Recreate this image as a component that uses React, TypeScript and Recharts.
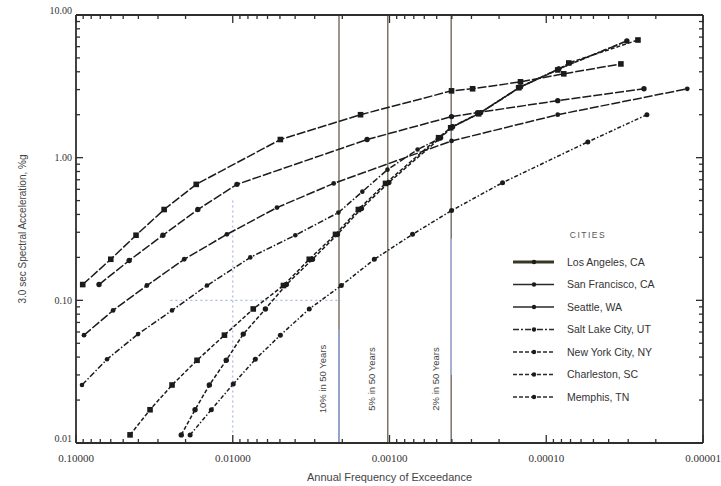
import React from "react";
import { LineChart, Line, XAxis, YAxis, ReferenceLine } from "recharts";

const W = 721;
const H = 486;

/* ---- axis ticks ---- */
const X_MAJOR = [0.1, 0.01, 0.001, 0.0001, 0.00001];
const X_LABELS = ["0.10000", "0.01000", "0.00100", "0.00010", "0.00001"];
const Y_MAJOR = [0.01, 0.1, 1, 10];
const Y_LABELS = ["0.01", "0.10", "1.00", "10.00"];
const MINOR_MULT = [2, 3, 4, 5, 6, 7, 8, 9];
const X_DECADES = [0.00001, 0.0001, 0.001, 0.01];
const Y_DECADES = [0.01, 0.1, 1];

const X_TICKS = [...X_MAJOR, ...X_DECADES.flatMap(d => MINOR_MULT.map(m => d * m))];
const Y_TICKS = [...Y_MAJOR, ...Y_DECADES.flatMap(d => MINOR_MULT.map(m => d * m))];

/* ---- hazard curves: annual frequency / spectral acceleration ---- */
const LA_F = [0.0906, 0.060, 0.0414, 0.0274, 0.0171, 0.00497, 0.00153, 0.000402, 0.000295, 0.000146, 0.0000773, 0.0000334];
const LA_SA = [0.129, 0.194, 0.286, 0.433, 0.65, 1.34, 2.0, 2.94, 3.04, 3.40, 3.87, 4.54];

const SF_F = [0.0713, 0.0458, 0.0279, 0.0167, 0.0094, 0.00139, 0.000402, 0.000274, 0.0000845, 0.0000238];
const SF_SA = [0.129, 0.19, 0.286, 0.433, 0.65, 1.34, 1.94, 2.07, 2.51, 3.04];

const SEA_F = [0.0889, 0.058, 0.0353, 0.0204, 0.0109, 0.00522, 0.00227, 0.000402, 0.0000845, 0.0000126];
const SEA_SA = [0.057, 0.085, 0.127, 0.194, 0.29, 0.447, 0.66, 1.31, 2.0, 3.04];

const SLC_F = [0.0916, 0.0634, 0.0402, 0.0244, 0.0146, 0.00773, 0.00399, 0.00212, 0.00149, 0.00103, 0.000662, 0.000493, 0.000396, 0.000262, 0.000146, 0.0000832, 0.0000306];
const SLC_SA = [0.0255, 0.0386, 0.058, 0.085, 0.127, 0.20, 0.286, 0.412, 0.578, 0.824, 1.14, 1.34, 1.65, 2.07, 3.13, 4.19, 6.58];

const NY_F = [0.0452, 0.0337, 0.0244, 0.0169, 0.0113, 0.0074, 0.00475, 0.00325, 0.00221, 0.00158, 0.00106, 0.000486, 0.000407, 0.00027, 0.00015, 0.0000845, 0.0000718, 0.000026];
const NY_SA = [0.0114, 0.0171, 0.0255, 0.038, 0.057, 0.087, 0.127, 0.194, 0.29, 0.433, 0.66, 1.38, 1.62, 2.03, 3.09, 4.12, 4.61, 6.68];

const CHS_F = [0.0213, 0.0174, 0.0141, 0.011, 0.00857, 0.00619, 0.00455, 0.0031, 0.00215, 0.00151, 0.00101, 0.000472, 0.000396, 0.000262, 0.000146, 0.0000832, 0.0000306];
const CHS_SA = [0.0114, 0.0171, 0.0255, 0.038, 0.058, 0.087, 0.129, 0.194, 0.29, 0.44, 0.67, 1.38, 1.65, 2.07, 3.13, 4.19, 6.58];

const MEM_F = [0.0187, 0.0137, 0.00993, 0.00718, 0.00497, 0.00325, 0.00203, 0.00125, 0.000713, 0.000402, 0.00019, 0.0000543, 0.0000228];
const MEM_SA = [0.0114, 0.0171, 0.0259, 0.0386, 0.057, 0.087, 0.127, 0.194, 0.29, 0.426, 0.668, 1.29, 2.0];

const CITIES = [
  "Los Angeles, CA", "San Francisco, CA", "Seattle, WA", "Salt Lake City, UT",
  "New York City, NY", "Charleston, SC", "Memphis, TN",
];

/* return periods for the reference lines */
const REF_F = [0.0021, 0.001026, 0.000404];
const REF_LABELS = ["10% in 50 Years", "5% in 50 Years", "2% in 50 Years"];

const zip = (f: number[], v: number[]) => f.map((x, i) => ({ f: x, v: v[i] }));
const SERIES = [
  zip(LA_F, LA_SA), zip(SF_F, SF_SA), zip(SEA_F, SEA_SA), zip(SLC_F, SLC_SA),
  zip(NY_F, NY_SA), zip(CHS_F, CHS_SA), zip(MEM_F, MEM_SA),
];

// plot styling per series (same order as CITIES)
const STYLE = [
  { dash: "9 2", shape: "square", size: 2.8, legendW: 3, legendDash: "" },
  { dash: "9 2", shape: "circle", size: 2.7, legendW: 1.6, legendDash: "" },
  { dash: "9 2", shape: "circle", size: 2.4, legendW: 1.4, legendDash: "" },
  { dash: "6 2 1.5 2", shape: "circle", size: 2.3, legendW: 1.3, legendDash: "6 2 2 2" },
  { dash: "4 2", shape: "square", size: 2.8, legendW: 1.3, legendDash: "4 2" },
  { dash: "4 2", shape: "circle", size: 2.7, legendW: 1.3, legendDash: "4 2" },
  { dash: "4 2 1.5 2", shape: "circle", size: 2.5, legendW: 1.3, legendDash: "4 2" },
];

const INK = "#1b1b1b";
const AXIS = "#2e2e2e";
const SERIF = "'Liberation Serif', 'Times New Roman', serif";
const SANS = "'Liberation Sans', Arial, sans-serif";

const near = (a: number, b: number) => Math.abs(a - b) / b < 1e-6;
const xLabel = (v: number) => { const i = X_MAJOR.findIndex(m => near(v, m)); return i < 0 ? null : X_LABELS[i]; };
const yLabel = (v: number) => { const i = Y_MAJOR.findIndex(m => near(v, m)); return i < 0 ? null : Y_LABELS[i]; };

/* ---- tick renderers: inward tick marks + labels ---- */
const BottomTick = (p: any) => {
  const { x, y, payload } = p;
  const lab = xLabel(payload.value);
  return (
    <g>
      <line x1={x} x2={x} y1={y} y2={y - (lab ? 8 : 4)} stroke={AXIS} strokeWidth={1.3} />
      {lab && <text x={x} y={y + 18.5} textAnchor="middle" fontSize={11} fontFamily={SERIF} fill="#333">{lab}</text>}
    </g>
  );
};
const TopTick = (p: any) => {
  const { x, y, payload } = p;
  const lab = xLabel(payload.value);
  return <line x1={x} x2={x} y1={y} y2={y + (lab ? 8 : 4)} stroke={AXIS} strokeWidth={1.3} />;
};
const LeftTick = (p: any) => {
  const { x, y, payload } = p;
  const lab = yLabel(payload.value);
  const edge = near(payload.value, 10) || near(payload.value, 0.01);
  return (
    <g>
      <line x1={x} x2={x + (lab ? 7 : 4)} y1={y} y2={y} stroke={AXIS} strokeWidth={1.3} />
      {lab && <text x={x - 4} y={edge ? y - 1 : y + 3.5} textAnchor="end" fontSize={10} fontFamily={SERIF} fill="#333">{lab}</text>}
    </g>
  );
};
const RightTick = (p: any) => {
  const { x, y, payload } = p;
  const lab = yLabel(payload.value);
  return <line x1={x} x2={x - (lab ? 7 : 4)} y1={y} y2={y} stroke={AXIS} strokeWidth={1.3} />;
};

const makeDot = (shape: string, s: number) => (p: any) => {
  const { cx, cy, index } = p;
  if (cx == null || cy == null) return <g key={index} />;
  if (shape === "square") return <rect key={index} x={cx - s} y={cy - s} width={s * 2} height={s * 2} fill={INK} />;
  return <circle key={index} cx={cx} cy={cy} r={s} fill={INK} />;
};

const VLabel = (p: any) => {
  const vb = p.viewBox || {};
  const x = vb.x - 16;
  const y = vb.y + vb.height - 64;
  return (
    <text x={x} y={y} transform={`rotate(-90 ${x} ${y})`} textAnchor="middle" dominantBaseline="central"
      fontSize={9.5} fontFamily={SANS} fill="#444">{p.text}</text>
  );
};

const YTitle = (p: any) => {
  const vb = p.viewBox || {};
  const x = 22;
  const y = vb.y + vb.height / 2;
  return (
    <text x={x} y={y} transform={`rotate(-90 ${x} ${y})`} textAnchor="middle" dominantBaseline="central"
      fontSize={10} fontFamily={SANS} fill="#444">3.0 sec Spectral Acceleration, %g</text>
  );
};

const XTitle = (p: any) => {
  const vb = p.viewBox || {};
  return (
    <text x={vb.x + vb.width / 2} y={481} textAnchor="middle" fontSize={11} fontFamily={SANS} fill="#444">
      Annual Frequency of Exceedance
    </text>
  );
};

const legendStroke = (s: any) => (s.legendW > 2 ? "#3a3626" : "#2a2a2a");

const LegendBox = () => {
  const rows = CITIES.map((c, i) => ({ c, y: 262 + i * 22.5, s: STYLE[i] }));
  return (
    <svg width={W} height={H} style={{ position: "absolute", left: 0, top: 0, pointerEvents: "none" }}>
      <text x={588} y={238} textAnchor="middle" fontSize={8.5} letterSpacing={1.5} fontFamily={SANS} fill="#555">CITIES</text>
      {rows.map(r => (
        <g key={r.c}>
          <line x1={513} x2={554} y1={r.y} y2={r.y} stroke={legendStroke(r.s)} strokeWidth={r.s.legendW} strokeDasharray={r.s.legendDash} />
          <circle cx={534} cy={r.y} r={2.2} fill={INK} />
          <text x={567} y={r.y + 3.8} fontSize={10.5} fontFamily={SANS} fill="#333">{r.c}</text>
        </g>
      ))}
    </svg>
  );
};

export default function App() {
  return (
    <div style={{ position: "absolute", left: 0, top: 0, width: W, height: H, background: "#fff" }}>
      <LineChart width={W} height={H} margin={{ top: 14, right: 17, bottom: 13, left: 16 }}>
        <XAxis
          xAxisId="b" dataKey="f" type="number" scale="log" domain={[0.00001, 0.1]} reversed allowDataOverflow
          ticks={X_TICKS} interval={0} tickSize={0} tickMargin={0} tickLine={false}
          axisLine={{ stroke: AXIS, strokeWidth: 1.8 }} height={30} tick={(p: any) => <BottomTick {...p} />}
          label={<XTitle />}
        />
        <XAxis
          xAxisId="t" orientation="top" dataKey="f" type="number" scale="log" domain={[0.00001, 0.1]} reversed allowDataOverflow
          ticks={X_TICKS} interval={0} tickSize={0} tickMargin={0} tickLine={false}
          axisLine={{ stroke: AXIS, strokeWidth: 1.8 }} height={1} tick={(p: any) => <TopTick {...p} />}
        />
        <YAxis
          yAxisId="l" type="number" scale="log" domain={[0.01, 10]} allowDataOverflow
          ticks={Y_TICKS} interval={0} tickSize={0} tickMargin={0} tickLine={false}
          axisLine={{ stroke: AXIS, strokeWidth: 1.8 }} width={60} tick={(p: any) => <LeftTick {...p} />}
          label={<YTitle />}
        />
        <YAxis
          yAxisId="r" orientation="right" type="number" scale="log" domain={[0.01, 10]} allowDataOverflow
          ticks={Y_TICKS} interval={0} tickSize={0} tickMargin={0} tickLine={false}
          axisLine={{ stroke: AXIS, strokeWidth: 1.8 }} width={1} tick={(p: any) => <RightTick {...p} />}
        />

        {/* faint blue dotted guides */}
        <ReferenceLine xAxisId="b" yAxisId="l" segment={[{ x: 0.01, y: 0.5 }, { x: 0.01, y: 0.01 }]}
          stroke="#a9b8e6" strokeWidth={1.2} strokeDasharray="2 3" />
        <ReferenceLine xAxisId="b" yAxisId="l" segment={[{ x: 0.025, y: 0.1 }, { x: 0.00205, y: 0.1 }]}
          stroke="#a9b8e6" strokeWidth={1.2} strokeDasharray="2 3" />

        {REF_F.map((f, i) => (
          <ReferenceLine key={f} xAxisId="b" yAxisId="l" x={f} stroke="#7a746a" strokeWidth={1.5}
            label={<VLabel text={REF_LABELS[i]} />} />
        ))}
        <ReferenceLine xAxisId="b" yAxisId="l" segment={[{ x: REF_F[0], y: 0.063 }, { x: REF_F[0], y: 0.01 }]}
          stroke="#95a6dc" strokeWidth={1.5} />
        <ReferenceLine xAxisId="b" yAxisId="l" segment={[{ x: REF_F[2], y: 0.27 }, { x: REF_F[2], y: 0.03 }]}
          stroke="#a3b2e0" strokeWidth={1.5} />

        {SERIES.map((d, i) => (
          <Line key={CITIES[i]} xAxisId="b" yAxisId="l" data={d} dataKey="v" type="linear"
            stroke={INK} strokeWidth={1.5} strokeDasharray={STYLE[i].dash}
            dot={makeDot(STYLE[i].shape, STYLE[i].size)} activeDot={false} isAnimationActive={false} />
        ))}
      </LineChart>
      <LegendBox />
    </div>
  );
}
